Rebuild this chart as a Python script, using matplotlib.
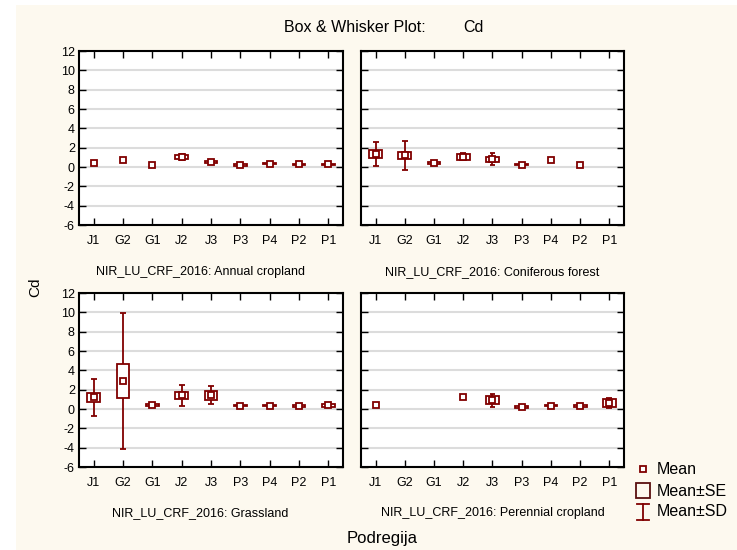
import numpy as np
import matplotlib.pyplot as plt
from matplotlib.patches import Rectangle
from matplotlib.lines import Line2D

plt.rcParams['font.family'] = ['Liberation Sans', 'DejaVu Sans']
plt.rcParams['axes.unicode_minus'] = False

regions = ["J1", "G2", "G1", "J2", "J3", "P3", "P4", "P2", "P1"]
nan = np.nan

# Annual cropland
annual_mean = [0.4, 0.7, 0.2, 1.0, 0.55, 0.2, 0.35, 0.3, 0.3]
annual_se = [nan, nan, nan, 0.2, 0.12, 0.06, 0.06, 0.06, 0.06]
annual_sd = [nan, nan, nan, 0.3, 0.2, 0.1, 0.12, 0.12, 0.12]

# Coniferous forest
conif_mean = [1.35, 1.2, 0.4, 1.05, 0.8, 0.25, 0.75, 0.25, nan]
conif_se = [0.45, 0.38, 0.12, 0.3, 0.25, 0.06, nan, nan, nan]
conif_sd = [1.2, 1.5, 0.15, 0.35, 0.6, 0.12, nan, nan, nan]

# Grassland
grass_mean = [1.2, 2.9, 0.38, 1.42, 1.42, 0.35, 0.35, 0.3, 0.4]
grass_se = [0.48, 1.8, 0.12, 0.35, 0.45, 0.08, 0.08, 0.08, 0.15]
grass_sd = [1.9, 7.05, 0.2, 1.07, 0.95, 0.12, 0.12, 0.12, 0.2]

# Perennial cropland
peren_mean = [0.4, nan, nan, 1.25, 0.9, 0.2, 0.35, 0.3, 0.6]
peren_se = [nan, nan, nan, nan, 0.42, 0.06, 0.08, 0.08, 0.4]
peren_sd = [nan, nan, nan, nan, 0.68, 0.1, 0.15, 0.15, 0.5]

panels = [
    ("NIR_LU_CRF_2016: Annual cropland", annual_mean, annual_se, annual_sd),
    ("NIR_LU_CRF_2016: Coniferous forest", conif_mean, conif_se, conif_sd),
    ("NIR_LU_CRF_2016: Grassland", grass_mean, grass_se, grass_sd),
    ("NIR_LU_CRF_2016: Perennial cropland", peren_mean, peren_se, peren_sd),
]

red = "#800000"
W, H = 737, 550
fig = plt.figure(figsize=(W / 100, H / 100), dpi=100, facecolor="white")
fig.patches.append(Rectangle((16 / W, 0), 1 - 16 / W, 1 - 5 / H, transform=fig.transFigure,
                             facecolor="#FDF9EF", edgecolor="none", zorder=-10))

# axes boxes in pixels: left, top, right, bottom
boxes = [(79, 51, 343, 225), (361, 51, 624, 225), (79, 293, 343, 467), (361, 293, 624, 467)]
sub_x = [200, 492, 200, 493]
sub_y = [272, 272, 513, 513]

for i, (name, mean, se, sd) in enumerate(panels):
    l, t, r, b = boxes[i]
    ax = fig.add_axes([l / W, 1 - b / H, (r - l) / W, (b - t) / H])
    ax.set_facecolor("white")
    x = np.arange(len(regions))
    for k in range(len(regions)):
        m = mean[k]
        if np.isnan(m):
            continue
        if not np.isnan(sd[k]):
            ax.vlines(x[k], m - sd[k], m + sd[k], color=red, lw=1.3, zorder=3)
            ax.hlines([m - sd[k], m + sd[k]], x[k] - 0.1, x[k] + 0.1, color=red, lw=1.3, zorder=3)
        if not np.isnan(se[k]):
            ax.add_patch(Rectangle((x[k] - 0.22, m - se[k]), 0.44, 2 * se[k],
                                   facecolor="white", edgecolor=red, lw=1.3, zorder=4))
    ax.plot(x, mean, ls="none", marker="s", ms=4.5, mfc="white", mec=red, mew=1.3, zorder=5)

    ax.set_xlim(-0.5, 8.5)
    ax.set_ylim(-6, 12)
    ax.set_yticks(np.arange(-6, 13, 2))
    ax.set_xticks(x)
    ax.set_xticklabels(regions)
    if i % 2 == 1:
        ax.set_yticklabels([])
    ax.tick_params(direction="in", top=True, right=True, length=5, width=1, labelsize=9)
    ax.tick_params(axis="x", pad=7)
    ax.tick_params(axis="y", pad=3)
    ax.grid(axis="y", color="#DCDCDC", lw=1.5)
    ax.set_axisbelow(True)
    for s in ax.spines.values():
        s.set_linewidth(1.5)
    fig.text(sub_x[i] / W, 1 - sub_y[i] / H, name, ha="center", va="center", fontsize=9)

fig.text(355 / W, 1 - 27 / H, "Box & Whisker Plot:", ha="center", va="center", fontsize=11.5)
fig.text(473 / W, 1 - 27 / H, "Cd", ha="center", va="center", fontsize=11.5)
fig.text(382 / W, 1 - 538 / H, "Podregija", ha="center", va="center", fontsize=12)
fig.text(35 / W, 1 - 287 / H, "Cd", ha="center", va="center", rotation=90, fontsize=11)

# legend
lg = fig.add_axes([0, 0, 1, 1], facecolor="none")
lg.set_xlim(0, W)
lg.set_ylim(H, 0)
lg.axis("off")
lg.plot([643], [469], ls="none", marker="s", ms=4.5, mfc="white", mec=red, mew=1.3)
lg.add_patch(Rectangle((636, 483), 14, 15, facecolor="none", edgecolor="#5A1010", lw=1.3))
lg.add_line(Line2D([643, 643], [504, 520], color=red, lw=1.3))
lg.add_line(Line2D([637, 649], [504, 504], color=red, lw=1.3))
lg.add_line(Line2D([637, 649], [520, 520], color=red, lw=1.3))
for yy, txt in [(469, "Mean"), (491, "Mean±SE"), (512, "Mean±SD")]:
    lg.text(657, yy, txt, ha="left", va="center", fontsize=11.5)

fig.savefig("out.png", dpi=100, facecolor=fig.get_facecolor())
